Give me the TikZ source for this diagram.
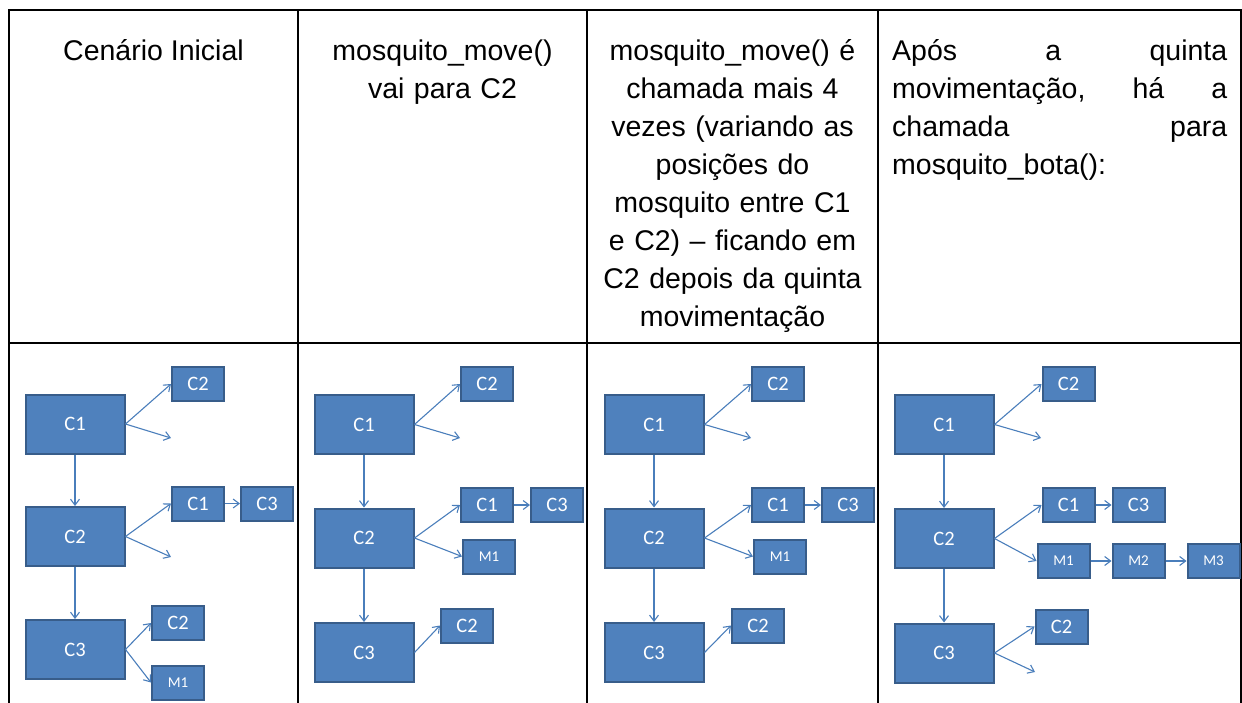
\documentclass[tikz,border=0pt]{standalone}
\usepackage{fontspec}
\newfontfamily\headfont{Liberation Sans}
\newfontfamily\boxfont{Carlito}
\usepackage{tikz}
\usetikzlibrary{positioning}
\usetikzlibrary{arrows.meta}

\definecolor{boxfill}{HTML}{4F81BD}
\definecolor{boxline}{HTML}{385D8A}
\definecolor{linkblue}{HTML}{4A7EBB}

\tikzset{
	cell/.style={draw=boxline, fill=boxfill, line width=2pt, text=white, inner sep=0pt,
		font=\boxfont\fontsize{20.5}{20.5}\selectfont},
	bigbox/.style={cell, minimum width=99pt, minimum height=59pt},
	smallbox/.style={cell, minimum width=52pt, minimum height=34pt},
	mbox/.style={smallbox, font=\boxfont\fontsize{15}{15}\selectfont},
	link/.style={draw=linkblue, line width=1.1pt, -{Straight Barb[length=6pt,width=9pt]}},
	header/.style={font=\headfont\fontsize{28.5}{38}\selectfont, inner sep=0pt, anchor=base},
	tableline/.style={line width=2pt, line cap=rect},
}

\begin{document}
\begin{tikzpicture}[x=1pt, y=-1pt]
	
	\useasboundingbox (0,0) rectangle (1242,702);
	
	% NOTE: y RUNS DOWNWARDS, ONE UNIT = ONE PIXEL OF THE SCAN
	
	%%%%%%%%%%%%%%%%%%%%%%%%%%%%%%%%%%%%%%%%%%%%%%%%%%%%%%%%%%%%%%
	% Table frame
	\draw[tableline] (9,702) -- (9,10) -- (1240.5,10) -- (1240.5,702);
	\draw[tableline] (9,343) -- (1240.5,343);
	\draw[tableline] (298,10) -- (298,702);
	\draw[tableline] (587,10) -- (587,702);
	\draw[tableline] (878,10) -- (878,702);
	
	% Headers
	\node[header] (hdrA) at (153.5,60.5) {Cenário Inicial};
	\node[header, text width=280pt, align=center] (hdrB) at (442.5,60.5)
		{mosquito\_move()\\vai para C2};
	\node[header, text width=280pt, align=center] (hdrC) at (732.5,60.5)
		{mosquito\_move() é\\chamada mais 4\\vezes (variando as\\posições do\\mosquito entre C1\\e C2) – ficando em\\C2 depois da quinta\\movimentação};
	\node[header, anchor=base west, text width=335pt, align=left] (hdrD) at (892,60.5)
		{Após\hfill a\hfill quinta\\movimentação,\hfill há\hfill a\\chamada\hfill para\\mosquito\_bota():};
	
	%%%%%%%%%%%%%%%%%%%%%%%%%%%%%%%%%%%%%%%%%%%%%%%%%%%%%%%%%%%%%%
	% Column 1 : initial scenario
	\node[bigbox] (aC1) at (75,424) {C1};
	\node[bigbox] (aC2) at (75,536.5) {C2};
	\node[bigbox] (aC3) at (75,649.5) {C3};
	
	\node[smallbox] (a1C2) at (198,384) {C2};
	\node[smallbox] (a2C1) at (198,503.5) {C1};
	\node[smallbox] (a2C3) at (267,503.5) {C3};
	\node[smallbox] (a3C2) at (178,623) {C2};
	\node[mbox] (a3M1) at (178,682.5) {M1};
	
	\coordinate (a1end) at (171,438);
	\coordinate (a2end) at (171,557);
	
	\draw[link] (aC1.east) -- (a1C2.west);
	\draw[link] (aC1.east) -- (a1end);
	\draw[link] (aC1) -- (aC2);
	\draw[link] (aC2.east) -- (a2C1.west);
	\draw[link] (aC2.east) -- (a2end);
	\draw[link] (a2C1) -- (a2C3);
	\draw[link] (aC2) -- (aC3);
	\draw[link] (aC3.east) -- (a3C2.west);
	\draw[link] (aC3.east) -- (a3M1.west);
	
	%%%%%%%%%%%%%%%%%%%%%%%%%%%%%%%%%%%%%%%%%%%%%%%%%%%%%%%%%%%%%%
	% Column 2 : after the first move
	\node[bigbox] (bC1) at (364,424.5) {C1};
	\node[bigbox] (bC2) at (364,538) {C2};
	\node[bigbox] (bC3) at (364,652.5) {C3};
	
	\node[smallbox] (b1C2) at (487,384) {C2};
	\node[smallbox] (b2C1) at (487,505) {C1};
	\node[smallbox] (b2C3) at (557,505) {C3};
	\node[mbox] (b2M1) at (489,556.5) {M1};
	\node[smallbox] (b3C2) at (467,625.5) {C2};
	
	\coordinate (b1end) at (460,438);
	
	\draw[link] (bC1.east) -- (b1C2.west);
	\draw[link] (bC1.east) -- (b1end);
	\draw[link] (bC1) -- (bC2);
	\draw[link] (bC2.east) -- (b2C1.west);
	\draw[link] (bC2.east) -- (b2M1.west);
	\draw[link] (b2C1) -- (b2C3);
	\draw[link] (bC2) -- (bC3);
	\draw[link] (bC3.east) -- (b3C2.west);
	
	%%%%%%%%%%%%%%%%%%%%%%%%%%%%%%%%%%%%%%%%%%%%%%%%%%%%%%%%%%%%%%
	% Column 3 : after the fifth move
	\node[bigbox] (cC1) at (654,424.5) {C1};
	\node[bigbox] (cC2) at (654,538) {C2};
	\node[bigbox] (cC3) at (654,652.5) {C3};
	
	\node[smallbox] (c1C2) at (778,384) {C2};
	\node[smallbox] (c2C1) at (778,505) {C1};
	\node[smallbox] (c2C3) at (848,505) {C3};
	\node[mbox] (c2M1) at (780,556.5) {M1};
	\node[smallbox] (c3C2) at (758,625.5) {C2};
	
	\coordinate (c1end) at (751,438);
	
	\draw[link] (cC1.east) -- (c1C2.west);
	\draw[link] (cC1.east) -- (c1end);
	\draw[link] (cC1) -- (cC2);
	\draw[link] (cC2.east) -- (c2C1.west);
	\draw[link] (cC2.east) -- (c2M1.west);
	\draw[link] (c2C1) -- (c2C3);
	\draw[link] (cC2) -- (cC3);
	\draw[link] (cC3.east) -- (c3C2.west);
	
	%%%%%%%%%%%%%%%%%%%%%%%%%%%%%%%%%%%%%%%%%%%%%%%%%%%%%%%%%%%%%%
	% Column 4 : after mosquito_bota()
	\node[bigbox] (dC1) at (944,424.5) {C1};
	\node[bigbox] (dC2) at (944,538.5) {C2};
	\node[bigbox] (dC3) at (944,653) {C3};
	
	\node[smallbox] (d1C2) at (1068.5,384) {C2};
	\node[smallbox] (d2C1) at (1068.5,505) {C1};
	\node[smallbox] (d2C3) at (1138.5,505) {C3};
	\node[mbox] (d2M1) at (1063.5,561) {M1};
	\node[mbox] (d2M2) at (1138.5,561) {M2};
	\node[mbox] (d2M3) at (1213.5,561) {M3};
	\node[smallbox] (d3C2) at (1061.5,626.5) {C2};
	
	\coordinate (d1end) at (1041,438);
	\coordinate (d3end) at (1035,672);
	
	\draw[link] (dC1.east) -- (d1C2.west);
	\draw[link] (dC1.east) -- (d1end);
	\draw[link] (dC1) -- (dC2);
	\draw[link] (dC2.east) -- (d2C1.west);
	\draw[link] (dC2.east) -- (d2M1.west);
	\draw[link] (d2C1) -- (d2C3);
	\draw[link] (d2M1) -- (d2M2);
	\draw[link] (d2M2) -- (d2M3);
	\draw[link] (dC2) -- (dC3);
	\draw[link] (dC3.east) -- (d3C2.west);
	\draw[link] (dC3.east) -- (d3end);
	
\end{tikzpicture}
\end{document}
